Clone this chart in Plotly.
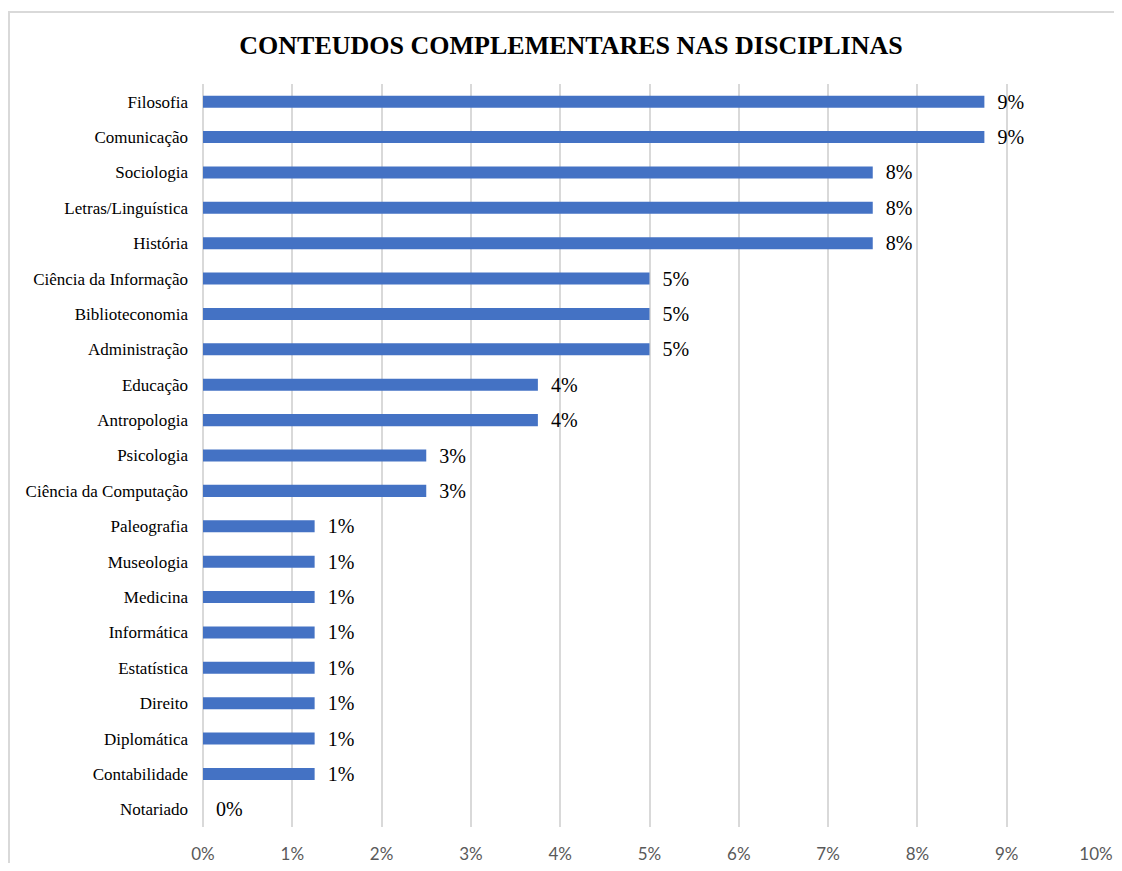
import plotly.graph_objects as go

categories = [
    "Filosofia", "Comunicação", "Sociologia", "Letras/Linguística", "História",
    "Ciência da Informação", "Biblioteconomia", "Administração", "Educação",
    "Antropologia", "Psicologia", "Ciência da Computação", "Paleografia",
    "Museologia", "Medicina", "Informática", "Estatística", "Direito",
    "Diplomática", "Contabilidade", "Notariado",
]
values = [
    0.0875, 0.0875, 0.075, 0.075, 0.075,
    0.05, 0.05, 0.05, 0.0375,
    0.0375, 0.025, 0.025, 0.0125,
    0.0125, 0.0125, 0.0125, 0.0125, 0.0125,
    0.0125, 0.0125, 0.0,
]
labels = [
    "9%", "9%", "8%", "8%", "8%",
    "5%", "5%", "5%", "4%",
    "4%", "3%", "3%", "1%",
    "1%", "1%", "1%", "1%", "1%",
    "1%", "1%", "0%",
]
x_ticks = [0, 0.01, 0.02, 0.03, 0.04, 0.05, 0.06, 0.07, 0.08, 0.09, 0.10]
x_tick_labels = ["0%", "1%", "2%", "3%", "4%", "5%", "6%", "7%", "8%", "9%", "10%"]
title = "CONTEUDOS COMPLEMENTARES NAS DISCIPLINAS"

# page body has an 8px margin on every side; size the figure so the page fits the window
W, H = 1106, 855
L, R, T, B = 195, 18, 76, 36
plot_w = W - L - R
plot_h = H - T - B

fig = go.Figure(
    go.Bar(
        y=categories,
        x=values,
        orientation="h",
        marker=dict(color="#4472C4", line=dict(width=0)),
        width=0.34,
        text=labels,
        texttemplate="  %{text}",
        textposition="outside",
        constraintext="none",
        textfont=dict(family="Liberation Serif", size=20, color="#000000"),
        cliponaxis=False,
        hoverinfo="skip",
    )
)

fig.update_layout(
    width=W,
    height=H,
    paper_bgcolor="white",
    plot_bgcolor="white",
    margin=dict(l=L, r=R, t=T, b=B, autoexpand=False),
    showlegend=False,
    title=dict(
        text="<b>" + title + "</b>",
        x=(571 - 8) / W,
        xanchor="center",
        y=1 - (45 - 8) / H,
        yanchor="middle",
        font=dict(family="Liberation Serif", size=26, color="#000000"),
    ),
    xaxis=dict(
        range=[0, 0.1],
        tickvals=x_ticks,
        ticktext=x_tick_labels,
        showgrid=True,
        gridcolor="#d9d9d9",
        gridwidth=2,
        zeroline=True,
        zerolinecolor="#d9d9d9",
        zerolinewidth=2,
        showline=False,
        ticks="",
        ticklabelstandoff=15,
        tickfont=dict(family="Lato", size=17, color="#595959"),
        automargin=False,
        fixedrange=True,
    ),
    yaxis=dict(
        autorange="reversed",
        showgrid=False,
        zeroline=False,
        showline=False,
        ticks="",
        ticklabelstandoff=14,
        tickfont=dict(family="Liberation Serif", size=17, color="#000000"),
        automargin=False,
        fixedrange=True,
    ),
    shapes=[
        dict(
            type="rect",
            xref="paper",
            yref="paper",
            x0=(1 - L) / plot_w,
            x1=1.2,
            y0=-0.2,
            y1=(H - B - 4) / plot_h,
            line=dict(color="#d9d9d9", width=2),
            fillcolor="rgba(0,0,0,0)",
            layer="below",
        )
    ],
)

fig.write_html("out.html")
